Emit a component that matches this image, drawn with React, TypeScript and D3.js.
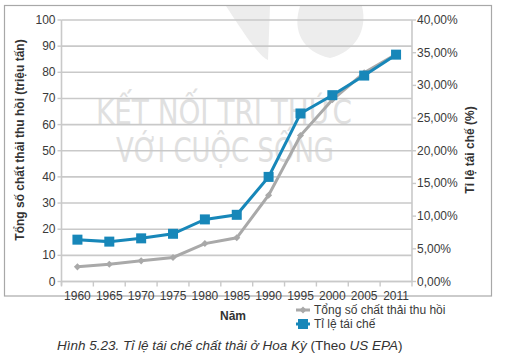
import React from "react";
import * as d3 from "d3";

const years = ["1960", "1965", "1970", "1975", "1980", "1985", "1990", "1995", "2000", "2005", "2011"];
const totalRecovered = [5.6, 6.6, 7.9, 9.2, 14.5, 16.7, 33.0, 55.8, 69.5, 79.8, 86.9];
const recyclingRate = [6.4, 6.1, 6.6, 7.3, 9.5, 10.2, 16.0, 25.7, 28.5, 31.5, 34.7];
const leftTicks = [0, 10, 20, 30, 40, 50, 60, 70, 80, 90, 100];
const rightTicks = [0, 5, 10, 15, 20, 25, 30, 35, 40];

const W = 508, H = 356;
const L = 61.5, R = 412, T = 20, B = 281.5;
const BLUE = "#1787b9";
const GREYLINE = "#a9a9a9";
const GRID = "#c9c9c9";
const TXT = "#3a3a3a";
const FONT = "'Liberation Sans', Arial, sans-serif";

export default function App() {
  const x = d3.scaleBand<string>().domain(years).range([L, R]);
  const yL = d3.scaleLinear().domain([0, 100]).range([B, T]);
  const yR = d3.scaleLinear().domain([0, 40]).range([B, T]);
  const cx = (d: string) => (x(d) as number) + x.bandwidth() / 2;

  const greyLine = d3.line<number>().x((_, i) => cx(years[i])).y((v) => yL(v));
  const blueLine = d3.line<number>().x((_, i) => cx(years[i])).y((v) => yR(v));

  const xTicks = [...years.map((d) => x(d) as number), R];
  const fmt = (v: number) => v.toFixed(2).replace(".", ",") + "%";

  return (
    <svg width={W} height={H} style={{ position: "absolute", left: 0, top: 0, background: "#fff" }} fontFamily={FONT}>
      <rect x={0} y={0} width={W} height={H} fill="#fff" />
      {/* watermark */}
      <g fill="#ededed">
        <path d="M226,6 C245,35 258,55 268,60 L270,6 Z" />
        <path d="M300,6 C292,30 302,52 330,58 C355,52 368,30 362,6 Z" />
      </g>
      <g fill="#e0e0e0" fontFamily="'DejaVu Sans', sans-serif" fontStretch="condensed" fontSize={34} fontWeight={400}>
        <text x={96} y={124} textLength={256} lengthAdjust="spacingAndGlyphs">KẾT NỐI TRI THỨC</text>
        <text x={116} y={162} textLength={218} lengthAdjust="spacingAndGlyphs">VỚI CUỘC SỐNG</text>
      </g>
      {/* frame */}
      <rect x={4.5} y={5.5} width={487} height={290.5} fill="none" stroke="#a8a8a8" strokeWidth={1.2} />
      {/* grid */}
      {leftTicks.map((t) => (
        <line key={t} x1={L} x2={R} y1={yL(t)} y2={yL(t)} stroke={GRID} strokeWidth={1.6} />
      ))}
      {/* axes */}
      <line x1={L} x2={L} y1={T} y2={B + 4} stroke={GRID} strokeWidth={1.6} />
      <line x1={R} x2={R} y1={T} y2={B} stroke={GRID} strokeWidth={1.6} />
      <line x1={L} x2={R} y1={B} y2={B} stroke={GRID} strokeWidth={1.6} />
      {leftTicks.map((t) => (
        <g key={"l" + t}>
          <line x1={L - 4} x2={L} y1={yL(t)} y2={yL(t)} stroke={GRID} strokeWidth={1.4} />
          <text x={L - 6} y={yL(t) + 4} textAnchor="end" fontSize={12} fill={TXT}>{t}</text>
        </g>
      ))}
      {rightTicks.map((t) => (
        <g key={"r" + t}>
          <line x1={R} x2={R + 4} y1={yR(t)} y2={yR(t)} stroke={GRID} strokeWidth={1.4} />
          <text x={R + 5} y={yR(t) + 4} textAnchor="start" fontSize={12} fill={TXT}>{fmt(t)}</text>
        </g>
      ))}
      {xTicks.map((t, i) => (
        <line key={"x" + i} x1={t} x2={t} y1={B} y2={B + 5} stroke={GRID} strokeWidth={1.4} />
      ))}
      {years.map((d) => (
        <text key={"xl" + d} x={cx(d)} y={300} textAnchor="middle" fontSize={12} fill={TXT}>{d}</text>
      ))}
      {/* axis titles */}
      <text transform={`translate(24,140) rotate(-90)`} textAnchor="middle" fontSize={12} fontWeight="bold" fill="#333">
        Tổng số chất thải thu hồi (triệu tấn)
      </text>
      <text transform={`translate(474,150) rotate(-90)`} textAnchor="middle" fontSize={12} fontWeight="bold" fill="#333">
        Tỉ lệ tái chế (%)
      </text>
      <text x={233} y={320} textAnchor="middle" fontSize={12} fontWeight="bold" fill="#333">Năm</text>
      {/* series */}
      <path d={greyLine(totalRecovered) || ""} fill="none" stroke={GREYLINE} strokeWidth={3} />
      {totalRecovered.map((v, i) => (
        <rect key={"g" + i} x={cx(years[i]) - 2.5} y={yL(v) - 2.5} width={5} height={5} fill={GREYLINE}
          transform={`rotate(45 ${cx(years[i])} ${yL(v)})`} />
      ))}
      <path d={blueLine(recyclingRate) || ""} fill="none" stroke={BLUE} strokeWidth={3} />
      {recyclingRate.map((v, i) => (
        <rect key={"b" + i} x={cx(years[i]) - 5} y={yR(v) - 5} width={10} height={10} fill={BLUE} />
      ))}
      {/* legend */}
      <g>
        <line x1={296} x2={310} y1={310} y2={310} stroke={GREYLINE} strokeWidth={3} />
        <rect x={300.5} y={307.5} width={5} height={5} fill={GREYLINE} transform="rotate(45 303 310)" />
        <text x={314} y={314} fontSize={12} fill={TXT}>Tổng số chất thải thu hồi</text>
        <line x1={296} x2={310} y1={324} y2={324} stroke={BLUE} strokeWidth={3} />
        <rect x={298} y={319} width={10} height={10} fill={BLUE} />
        <text x={314} y={328} fontSize={12} fill={TXT}>Tỉ lệ tái chế</text>
      </g>
      {/* caption */}
      <text x={57} y={350} fontSize={13.5} fill="#333">
        <tspan fontStyle="italic">Hình 5.23. Tỉ lệ tái chế chất thải ở Hoa Kỳ</tspan>
        <tspan> (Theo </tspan>
        <tspan fontStyle="italic">US EPA</tspan>
        <tspan>)</tspan>
      </text>
    </svg>
  );
}
